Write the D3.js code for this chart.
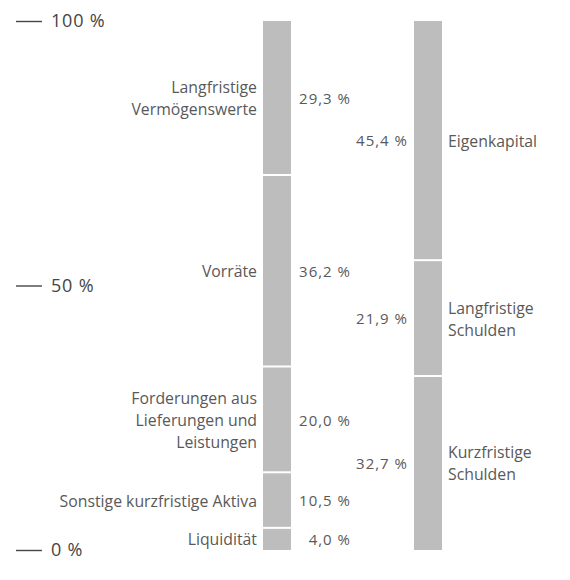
<!DOCTYPE html>
<html>
<head>
<meta charset="utf-8">
<script src="https://cdn.jsdelivr.net/npm/d3@7"></script>
<style>
  body { margin: 0; background: #fff; }
  text { font-family: "Open Sans", sans-serif; fill: #595959; }
  .tick-label { font-size: 18px; fill: #454545; letter-spacing: 0.8px; }
  .name { font-size: 15.8px; }
  .value { font-size: 15px; letter-spacing: 1px; }
</style>
</head>
<body>
<div id="chart"></div>
<script>
// Aktiva (bottom to top)
var aktivaLabels = [["Liquidität"], ["Sonstige kurzfristige Aktiva"], ["Forderungen aus", "Lieferungen und", "Leistungen"], ["Vorräte"], ["Langfristige", "Vermögenswerte"]];
var aktivaValues = [4.0, 10.5, 20.0, 36.2, 29.3];

// Passiva (bottom to top)
var passivaLabels = [["Kurzfristige", "Schulden"], ["Langfristige", "Schulden"], ["Eigenkapital"]];
var passivaValues = [32.7, 21.9, 45.4];

var tickValues = [0, 50, 100];

var width = 570, height = 580;

var svg = d3.select("#chart").append("svg")
    .attr("width", width)
    .attr("height", height);

var y = d3.scaleLinear()
    .domain([0, 100])
    .range([550, 21]);

var x = d3.scaleBand()
    .domain(["aktiva", "passiva"])
    .range([263, 442])
    .paddingInner(0.8146);

var fmt = function(v) { return v.toFixed(1).replace(".", ",") + " %"; };

// stack the values
function stackUp(values, labels) {
    var acc = 0;
    return values.map(function(v, i) {
        var d = {y0: acc, y1: acc + v, value: v, label: labels[i]};
        acc += v;
        return d;
    });
}

var aktiva = stackUp(aktivaValues, aktivaLabels);
var passiva = stackUp(passivaValues, passivaLabels);

// y axis ticks: short dash + label
var ticks = svg.append("g").attr("class", "ticks");
ticks.selectAll("line")
    .data(tickValues)
    .enter().append("line")
    .attr("x1", 16).attr("x2", 42)
    .attr("y1", function(d) { return y(d) + 0.5; })
    .attr("y2", function(d) { return y(d) + 0.5; })
    .attr("stroke", "#454545")
    .attr("stroke-width", 1.4);
ticks.selectAll("text")
    .data(tickValues)
    .enter().append("text")
    .attr("class", "tick-label")
    .attr("x", 51)
    .attr("y", function(d) { return y(d); })
    .attr("dy", "0.35em")
    .text(function(d) { return d + " %"; });

function drawBar(data, key) {
    var g = svg.append("g");
    g.selectAll("rect")
        .data(data)
        .enter().append("rect")
        .attr("x", x(key))
        .attr("width", x.bandwidth())
        .attr("y", function(d) { return y(d.y1); })
        .attr("height", function(d, i) { return y(d.y0) - y(d.y1) - (i > 0 ? 2 : 0); })
        .attr("fill", "#bdbdbd");
    return g;
}

function addLabels(data, xName, anchorName, xValue, anchorValue) {
    var g = svg.append("g");
    var lineH = 22;
    data.forEach(function(d) {
        var cy = (y(d.y0) + y(d.y1)) / 2;
        var t = g.append("text")
            .attr("class", "name")
            .attr("x", xName)
            .attr("text-anchor", anchorName);
        var n = d.label.length;
        d.label.forEach(function(line, j) {
            t.append("tspan")
                .attr("x", xName)
                .attr("y", cy + (j - (n - 1) / 2) * lineH)
                .attr("dy", "0.35em")
                .text(line);
        });
        g.append("text")
            .attr("class", "value")
            .attr("x", xValue)
            .attr("y", cy)
            .attr("dy", "0.35em")
            .attr("text-anchor", anchorValue)
            .text(fmt(d.value));
    });
}

drawBar(aktiva, "aktiva");
drawBar(passiva, "passiva");

addLabels(aktiva, x("aktiva") - 6, "end", 351, "end");
addLabels(passiva, x("passiva") + x.bandwidth() + 6, "start", 408, "end");
</script>
</body>
</html>
